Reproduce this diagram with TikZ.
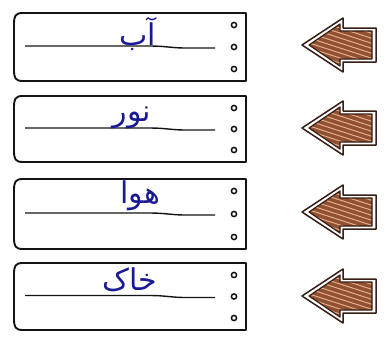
\documentclass[tikz,border=0pt]{standalone}
\usepackage{fontspec}
\newfontfamily\arabicfont[Script=Arabic]{DejaVu Sans}
\TeXXeTstate=1
\definecolor{ink}{RGB}{20,20,20}
\definecolor{pen}{RGB}{25,25,150}
\definecolor{wood}{RGB}{145,80,50}
\definecolor{woodlight}{RGB}{225,175,140}
\definecolor{woodedge}{RGB}{55,30,20}
\tikzset{
  panel/.style={draw=ink, line width=1.9pt, fill=white, line join=round},
  slot/.style={draw=ink, line width=1.4pt},
  hole/.style={draw=ink, line width=1.5pt, fill=white},
  word/.style={text=pen, font=\arabicfont\fontsize{30}{34}\selectfont, inner sep=0pt},
  arrowout/.style={draw=woodedge, line width=1.5pt, fill=white, line join=round},
  arrowin/.style={draw=woodedge, line width=1.2pt, line join=round},
}
\newcommand{\mypanel}[2]{% top, bottom
  \draw[panel] (246,#1) -- (23,#1) .. controls (15,#1) and (14,{#1+3}) .. (14,{#1+12})
    -- (14,{#2-12}) .. controls (14,{#2-3}) and (15,#2) .. (23,#2) -- (246,#2) -- cycle;
  \draw[slot] (25,{(#1+#2)/2-1}) -- (150,{(#1+#2)/2-1}) .. controls (165,{(#1+#2)/2-1}) and (172,{(#1+#2)/2+1}) .. (185,{(#1+#2)/2+1}) -- (215,{(#1+#2)/2+1});
  \draw[hole] (234,{#1+12}) circle (2.6);
  \draw[hole] (234,{(#1+#2)/2}) circle (2.6);
  \draw[hole] (234,{#2-12}) circle (2.6);
}
\newcommand{\myarrow}[1]{% centre y
  \draw[arrowout] (302,#1) -- (343,{#1-27}) -- (343,{#1-17}) -- (376,{#1-17}) -- (376,{#1+17}) -- (343,{#1+17}) -- (343,{#1+27}) -- cycle;
  \begin{scope}
    \clip (309,#1) -- (340,{#1-21}) -- (340,{#1-14}) -- (372,{#1-14}) -- (372,{#1+14}) -- (340,{#1+14}) -- (340,{#1+21}) -- cycle;
    \fill[wood] (300,{#1-30}) rectangle (380,{#1+30});
    \foreach \k in {-10,...,6}{
      \draw[woodlight, line width=1pt] (300,{#1+5*\k}) -- (380,{#1+5*\k+26});
    }
  \end{scope}
  \draw[arrowin] (309,#1) -- (340,{#1-21}) -- (340,{#1-14}) -- (372,{#1-14}) -- (372,{#1+14}) -- (340,{#1+14}) -- (340,{#1+21}) -- cycle;
}
\begin{document}
\begin{tikzpicture}[x=1pt,y=-1pt]
  \useasboundingbox (0,0) rectangle (385,338);
  \fill[white] (0,0) rectangle (385,338);
  \mypanel{13}{81}
  \mypanel{96}{162}
  \mypanel{179}{249}
  \mypanel{263}{330}
  \myarrow{45}
  \myarrow{128}
  \myarrow{212}
  \myarrow{296}
  \node[word] (ab) at (138,34) {\beginR آب\endR};
  \node[word] (noor) at (132,118) {\beginR نور\endR};
  \node[word] (hava) at (140,196) {\beginR هوا\endR};
  \node[word] (khak) at (130,280) {\beginR خاک\endR};
\end{tikzpicture}
\end{document}
